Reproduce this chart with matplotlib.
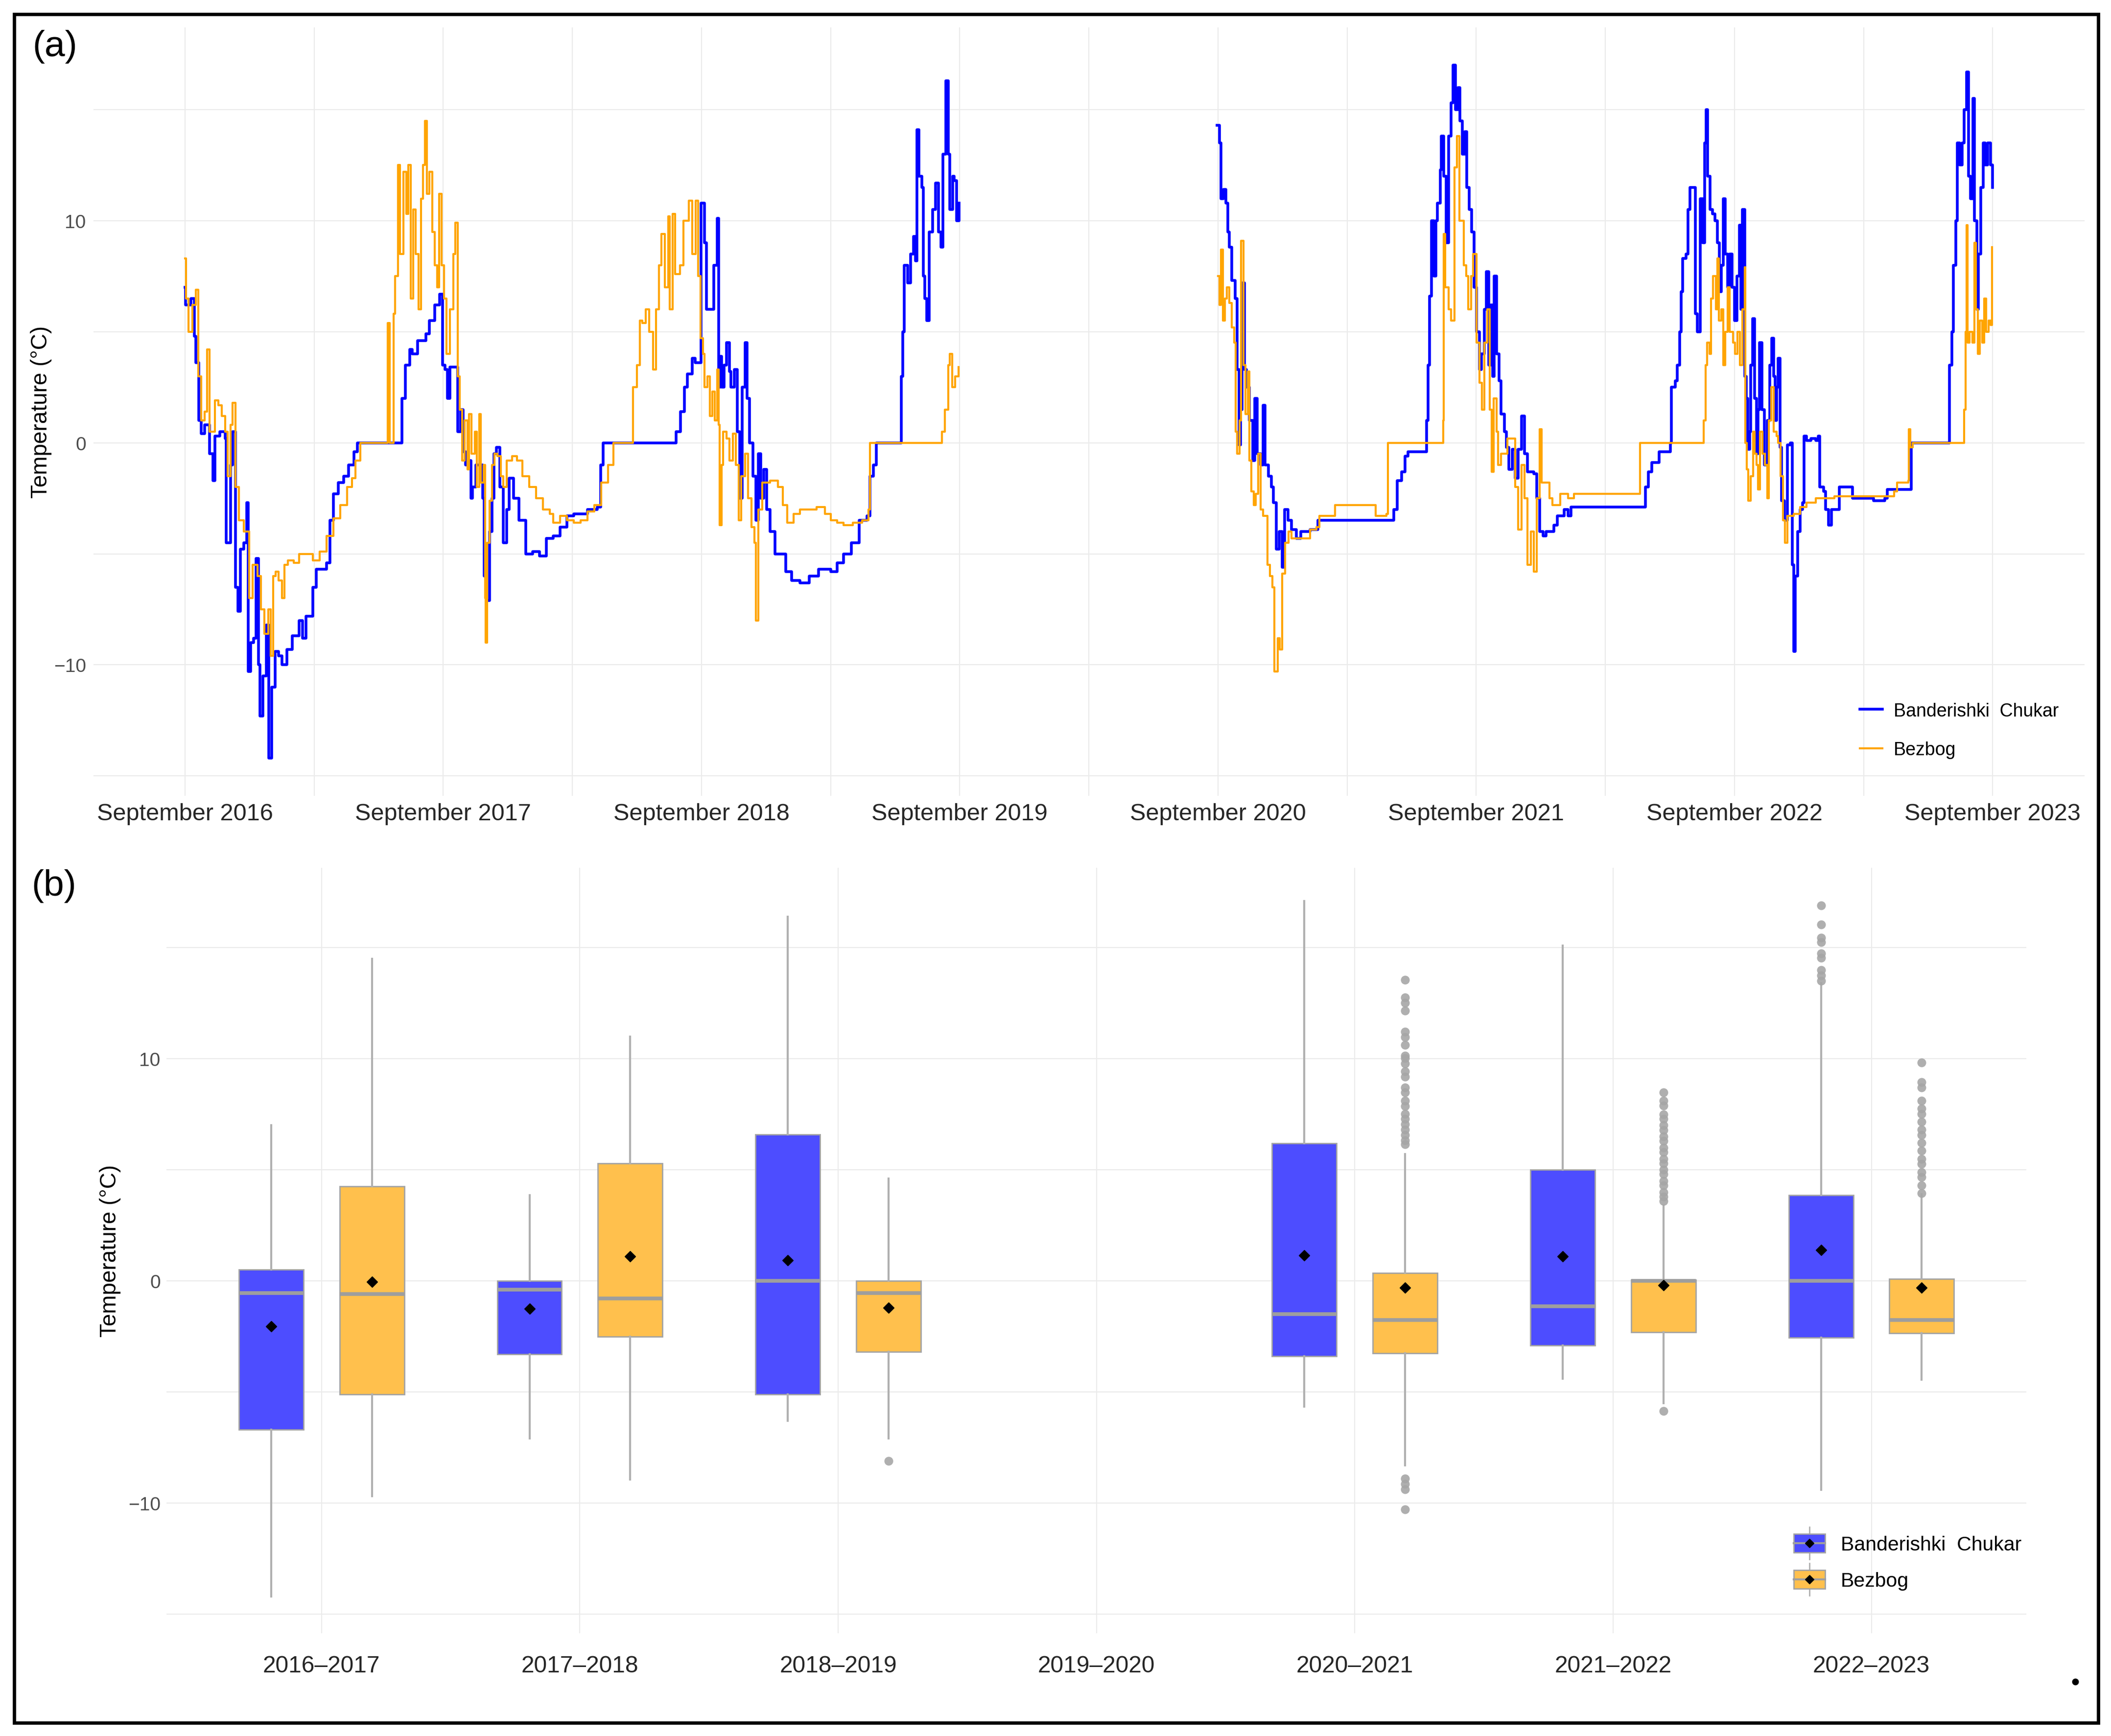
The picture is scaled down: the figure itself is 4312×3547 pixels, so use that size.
import numpy as np
import matplotlib
matplotlib.use('Agg')
import matplotlib.pyplot as plt
from matplotlib.patches import Patch, Rectangle
from matplotlib.lines import Line2D
from matplotlib.legend_handler import HandlerBase

plt.rcParams['font.family'] = ['Liberation Sans', 'DejaVu Sans']

# ---- panel (a): daily temperature, x = months since September 2016 ----
bc_early_m = [0.00, 0.03, 0.27, 0.43, 0.51, 0.64, 0.75, 0.91, 1.15, 1.31,
              1.39, 1.63, 1.87, 1.91, 2.11, 2.22, 2.35, 2.46, 2.58, 2.74,
              2.87, 2.94, 3.06, 3.19, 3.30, 3.41, 3.49, 3.62, 3.78, 3.89,
              4.02, 4.18, 4.34, 4.50, 4.74, 4.98, 5.30, 5.46, 5.62, 5.94,
              6.10, 6.57, 6.73, 6.89, 7.13, 7.37, 7.61, 7.85, 8.01, 9.97,
              10.08, 10.24, 10.44, 10.57, 10.80, 11.20, 11.36, 11.60, 11.84, 11.97,
              12.08, 12.19, 12.32, 12.61, 12.67, 12.80, 12.92, 13.04, 13.20, 13.28,
              13.36, 13.52, 13.72, 13.83, 13.91, 13.99, 14.15, 14.27, 14.36, 14.47,
              14.63, 14.79, 14.95, 15.06, 15.27, 15.51, 15.83, 16.15, 16.47, 16.79,
              17.11, 17.42, 17.74, 18.06, 18.70, 19.15, 19.31, 19.42, 22.76, 22.83,
              23.02, 23.20, 23.34, 23.56, 23.70, 23.89, 23.99, 24.14, 24.24, 24.43,
              24.57, 24.72, 24.79, 24.87, 24.94, 25.05, 25.16, 25.30, 25.37, 25.52,
              25.66, 25.78, 25.88, 26.03, 26.13, 26.24, 26.39, 26.53, 26.65, 26.75,
              26.90, 27.04, 27.19, 27.41, 27.70, 27.91, 28.20, 28.57, 29.00, 29.44,
              30.02, 30.31, 30.60, 30.96, 31.32, 31.69, 31.83, 31.98, 32.12, 33.21,
              33.28, 33.36, 33.43, 33.57, 33.72, 33.86, 33.94, 34.01, 34.11, 34.23,
              34.30, 34.37, 34.47, 34.59, 34.73, 34.88, 35.02, 35.13, 35.21, 35.36,
              35.46, 35.53, 35.68, 35.75, 35.85, 35.97]
bc_early_t = [7.0, 6.2, 6.5, 4.8, 3.6, 1.0, 0.4, 0.8, -0.5, -1.7,
              0.3, 0.5, 0.2, -4.5, -1.0, 0.5, -6.5, -7.6, -4.8, -4.5,
              -2.7, -10.3, -9.0, -8.8, -5.2, -10.0, -12.3, -10.5, -8.2, -14.2,
              -11.0, -9.4, -9.6, -10.0, -9.3, -8.7, -8.0, -8.8, -7.8, -6.5,
              -5.7, -5.4, -3.5, -2.3, -1.8, -1.5, -1.0, -0.4, 0.0, 0.0,
              2.0, 3.5, 4.2, 4.0, 4.6, 4.9, 5.5, 6.2, 6.7, 3.5,
              3.3, 2.0, 3.4, 3.4, 0.5, 1.5, -0.4, -1.0, -0.8, -2.5,
              -2.0, -1.0, -1.0, -2.5, -6.0, -7.1, -4.0, -2.5, -0.5, -0.2,
              -2.0, -4.5, -3.0, -1.6, -2.5, -3.5, -5.0, -4.9, -5.1, -4.3,
              -4.2, -3.8, -3.3, -3.2, -3.0, -2.9, -1.0, 0.0, 0.0, 0.5,
              1.4, 2.5, 3.1, 3.8, 3.6, 3.6, 10.8, 9.0, 6.0, 6.0,
              8.0, 10.1, 2.5, 3.9, 2.5, 3.5, 4.5, 3.2, 2.5, 3.3,
              0.5, -2.5, 2.5, 4.5, 2.0, 0.0, -1.5, -3.5, -0.5, -2.5,
              -1.2, -3.0, -4.0, -5.0, -5.0, -5.8, -6.2, -6.3, -6.0, -5.7,
              -5.8, -5.4, -5.0, -4.5, -3.5, -3.3, -1.5, -1.0, 0.0, 0.0,
              3.0, 5.0, 8.0, 7.2, 8.5, 9.3, 8.2, 14.1, 12.0, 11.5,
              7.5, 6.5, 5.5, 9.5, 10.5, 11.7, 9.5, 8.8, 13.0, 16.3,
              13.0, 10.5, 12.0, 11.8, 10.0, 10.8]

bc_late_m = [47.96, 48.07, 48.13, 48.25, 48.36, 48.46, 48.53, 48.65, 48.79, 48.89,
             48.97, 49.04, 49.11, 49.23, 49.33, 49.47, 49.62, 49.72, 49.83, 49.98,
             50.09, 50.19, 50.34, 50.48, 50.58, 50.70, 50.84, 50.99, 51.10, 51.25,
             51.42, 51.64, 51.85, 52.29, 52.65, 56.11, 56.18, 56.33, 56.54, 56.69,
             56.83, 57.65, 57.70, 57.77, 57.84, 57.91, 58.03, 58.13, 58.20, 58.32,
             58.38, 58.49, 58.61, 58.71, 58.82, 58.92, 59.04, 59.14, 59.24, 59.36,
             59.47, 59.57, 59.67, 59.79, 59.90, 60.01, 60.15, 60.25, 60.37, 60.48,
             60.58, 60.68, 60.77, 60.84, 60.94, 61.06, 61.16, 61.30, 61.41, 61.52,
             61.67, 61.81, 61.95, 62.10, 62.24, 62.39, 62.68, 62.82, 62.96, 63.11,
             63.25, 63.61, 63.76, 63.97, 64.09, 64.26, 64.41, 67.78, 67.86, 68.00,
             68.15, 68.51, 69.02, 69.06, 69.24, 69.35, 69.46, 69.53, 69.60, 69.75,
             69.85, 69.94, 70.08, 70.18, 70.28, 70.40, 70.52, 70.62, 70.69, 70.76,
             70.87, 70.98, 71.10, 71.20, 71.30, 71.39, 71.49, 71.56, 71.68, 71.78,
             71.88, 72.00, 72.12, 72.22, 72.29, 72.36, 72.47, 72.55, 72.61, 72.70,
             72.76, 72.84, 72.94, 73.02, 73.09, 73.16, 73.28, 73.38, 73.53, 73.64,
             73.74, 73.82, 73.89, 73.96, 74.03, 74.11, 74.18, 74.33, 74.47, 74.59,
             74.69, 74.76, 74.83, 74.94, 75.05, 75.17, 75.24, 75.34, 75.56, 75.78,
             75.90, 75.95, 76.14, 76.24, 76.36, 76.51, 76.72, 76.87, 77.38, 77.49,
             77.81, 78.47, 78.98, 79.09, 80.14, 80.21, 81.96, 82.00, 82.10, 82.17,
             82.28, 82.35, 82.47, 82.58, 82.68, 82.78, 82.87, 82.97, 83.08, 83.16,
             83.26, 83.34, 83.45, 83.56, 83.66, 83.77, 83.89, 83.99]
bc_late_t = [14.3, 13.5, 11.0, 11.4, 10.8, 9.5, 8.8, 7.3, 6.5, 3.3,
             -0.1, 1.5, 7.2, 3.3, 2.5, 1.0, -0.8, 2.0, -0.5, -1.0,
             1.7, -1.0, -1.5, -2.0, -2.7, -4.8, -4.0, -5.6, -3.0, -3.5,
             -3.9, -4.3, -4.0, -3.9, -3.5, -3.5, -3.0, -1.7, -1.3, -0.6,
             -0.4, -0.4, 1.0, 3.5, 6.6, 10.0, 7.5, 10.0, 10.8, 12.3,
             13.8, 12.0, 9.0, 13.8, 15.3, 17.0, 15.0, 16.0, 14.5, 13.0,
             14.0, 11.5, 10.5, 9.5, 7.0, 5.0, 3.3, 4.0, 6.0, 7.7,
             3.5, 6.2, 3.0, 7.5, 4.0, 2.8, 1.3, 0.5, -0.2, -1.2,
             -0.3, -1.6, -0.3, 1.2, -0.5, -1.3, -1.4, -2.5, -4.0, -4.2,
             -4.0, -3.7, -3.3, -3.3, -3.0, -3.3, -2.9, -2.9, -2.0, -1.3,
             -0.9, -0.4, 0.0, 2.5, 2.8, 3.5, 5.0, 6.8, 8.3, 8.5,
             10.5, 11.5, 11.5, 5.8, 5.0, 11.0, 9.0, 13.5, 15.0, 12.0,
             10.5, 10.3, 10.0, 9.0, 6.8, 8.0, 11.0, 8.5, 7.0, 8.5,
             7.0, 5.5, 7.5, 9.8, 6.0, 10.5, 3.0, 2.0, -0.3, 0.5,
             3.5, 5.6, 2.0, -0.5, 1.5, 4.5, 1.5, -1.0, 1.0, 3.5,
             4.7, 3.0, 1.0, 2.5, 3.8, -0.2, -2.6, -3.5, -0.1, 0.0,
             -5.5, -9.4, -6.0, -4.0, -3.0, -2.7, 0.3, 0.1, 0.2, 0.1,
             0.3, -2.0, -2.2, -3.0, -3.7, -3.0, -3.0, -2.0, -2.0, -2.5,
             -2.5, -2.6, -2.5, -2.1, -2.1, 0.0, 0.0, 3.5, 5.0, 8.0,
             10.0, 13.5, 12.5, 13.5, 15.0, 16.7, 12.0, 11.0, 15.5, 10.0,
             6.0, 8.5, 11.5, 13.5, 12.5, 13.5, 12.5, 11.5]

bz_early_m = [0.00, 0.06, 0.16, 0.27, 0.35, 0.51, 0.61, 0.75, 0.91, 1.02,
              1.15, 1.39, 1.55, 1.71, 1.87, 1.98, 2.11, 2.22, 2.35, 2.51,
              2.74, 2.98, 3.14, 3.38, 3.54, 3.70, 3.86, 3.99, 4.10, 4.21,
              4.34, 4.50, 4.63, 4.79, 5.06, 5.30, 5.62, 5.94, 6.25, 6.57,
              6.89, 7.21, 7.53, 7.77, 7.93, 8.14, 9.37, 9.41, 9.52, 9.69,
              9.77, 9.89, 10.00, 10.16, 10.28, 10.37, 10.48, 10.61, 10.72, 10.85,
              10.96, 11.07, 11.15, 11.23, 11.36, 11.49, 11.60, 11.71, 11.81, 11.92,
              12.03, 12.16, 12.32, 12.48, 12.57, 12.67, 12.77, 12.88, 12.99, 13.12,
              13.20, 13.32, 13.47, 13.56, 13.67, 13.75, 13.87, 13.95, 13.98, 14.04,
              14.15, 14.27, 14.39, 14.52, 14.68, 14.79, 14.95, 15.19, 15.43, 15.67,
              15.99, 16.31, 16.63, 16.95, 17.11, 17.42, 17.74, 18.06, 18.38, 18.70,
              19.02, 19.34, 19.66, 19.90, 20.74, 20.81, 21.01, 21.13, 21.25, 21.41,
              21.57, 21.76, 21.89, 22.02, 22.13, 22.29, 22.45, 22.53, 22.66, 22.77,
              23.01, 23.17, 23.41, 23.57, 23.73, 23.85, 23.95, 24.07, 24.14, 24.28,
              24.39, 24.50, 24.62, 24.72, 24.79, 24.84, 24.94, 25.01, 25.16, 25.30,
              25.45, 25.59, 25.74, 25.84, 26.03, 26.17, 26.32, 26.46, 26.53, 26.64,
              26.82, 26.97, 27.19, 27.55, 27.77, 27.99, 28.28, 28.57, 29.00, 29.36,
              29.73, 30.02, 30.31, 30.60, 31.03, 31.47, 31.76, 31.83, 35.13, 35.17,
              35.31, 35.46, 35.53, 35.65, 35.79, 35.94]
bz_early_t = [8.3, 6.5, 5.0, 5.0, 6.2, 6.9, 3.0, 1.0, 1.4, 4.2,
              0.5, 1.9, 1.7, 1.2, 0.5, -1.5, 0.8, 1.8, -2.0, -3.5,
              -4.0, -7.0, -5.5, -6.0, -7.5, -8.6, -7.5, -9.6, -6.0, -5.8,
              -6.2, -7.0, -5.5, -5.3, -5.4, -5.0, -5.0, -5.3, -4.9, -4.2,
              -3.4, -2.8, -2.0, -1.6, -0.8, 0.0, 0.0, 5.4, 0.0, 5.8,
              7.5, 12.5, 8.5, 12.2, 10.3, 12.5, 6.5, 10.5, 8.5, 6.0,
              11.0, 12.5, 14.5, 11.2, 12.2, 9.5, 8.0, 7.0, 11.2, 8.0,
              6.5, 4.0, 6.0, 8.5, 9.9, 3.0, 1.5, -0.8, 1.0, -1.2,
              1.3, -0.5, 0.5, -2.0, 1.3, -1.8, -1.0, -7.0, -9.0, -4.5,
              -2.6, -1.0, -0.5, -0.6, -1.5, -2.0, -0.8, -0.6, -0.8, -1.5,
              -2.0, -2.5, -3.0, -3.2, -3.6, -3.3, -3.5, -3.6, -3.5, -3.1,
              -2.8, -1.8, -1.0, 0.0, 0.0, 2.5, 3.5, 5.5, 5.4, 6.0,
              5.0, 3.3, 6.0, 8.0, 9.4, 7.0, 10.2, 6.0, 10.3, 7.6,
              8.0, 10.0, 10.9, 8.5, 10.9, 7.5, 4.7, 4.0, 2.5, 3.0,
              1.2, 2.3, 1.0, 3.3, 0.8, -3.7, -1.0, 0.5, 0.2, -0.8,
              0.4, -1.0, -3.5, -1.5, -0.5, -2.5, -3.8, -4.5, -8.0, -3.0,
              -1.8, -1.8, -1.7, -2.0, -2.8, -3.6, -3.2, -3.0, -3.0, -2.9,
              -3.2, -3.5, -3.6, -3.7, -3.6, -3.5, -3.0, 0.0, 0.0, 0.5,
              1.5, 3.5, 4.0, 2.5, 3.0, 3.4]

bz_late_m = [48.00, 48.07, 48.13, 48.22, 48.32, 48.42, 48.53, 48.65, 48.75, 48.82,
             48.89, 49.00, 49.08, 49.18, 49.28, 49.40, 49.47, 49.54, 49.66, 49.76,
             49.86, 49.98, 50.09, 50.19, 50.29, 50.41, 50.53, 50.63, 50.77, 50.87,
             50.99, 51.13, 51.28, 51.42, 52.14, 52.29, 52.57, 52.72, 53.44, 55.24,
             55.32, 55.82, 55.89, 58.42, 58.46, 58.49, 58.56, 58.71, 58.82, 58.92,
             59.00, 59.10, 59.21, 59.33, 59.43, 59.53, 59.62, 59.76, 59.86, 60.01,
             60.15, 60.27, 60.37, 60.51, 60.63, 60.73, 60.80, 60.94, 61.02, 61.16,
             61.30, 61.45, 61.67, 61.81, 61.95, 62.10, 62.24, 62.39, 62.53, 62.68,
             62.82, 62.94, 63.04, 63.25, 63.40, 63.54, 63.76, 63.90, 64.12, 64.26,
             64.55, 67.57, 67.61, 70.55, 70.58, 70.66, 70.72, 70.84, 70.91, 71.01,
             71.13, 71.20, 71.27, 71.39, 71.49, 71.56, 71.68, 71.78, 71.93, 72.03,
             72.15, 72.26, 72.36, 72.47, 72.51, 72.58, 72.65, 72.76, 72.87, 72.94,
             73.02, 73.09, 73.19, 73.31, 73.42, 73.53, 73.60, 73.72, 73.82, 73.96,
             74.03, 74.15, 74.25, 74.35, 74.47, 74.76, 75.05, 75.34, 75.78, 76.65,
             78.98, 79.41, 79.56, 80.07, 80.11, 80.17, 80.28, 82.65, 82.68, 82.73,
             82.78, 82.84, 82.93, 83.05, 83.16, 83.22, 83.31, 83.41, 83.51, 83.60,
             83.70, 83.80, 83.89, 83.96]
bz_late_t = [7.5, 6.2, 8.7, 5.5, 6.5, 7.0, 6.3, 5.2, 4.5, 0.5,
             -0.5, 1.0, 9.1, 3.5, 1.3, 3.2, -0.8, -2.2, -2.8, -2.3,
             -0.5, -3.0, -3.3, -3.3, -5.5, -6.0, -6.5, -10.3, -8.8, -9.3,
             -5.9, -4.5, -4.0, -4.3, -4.3, -3.9, -3.8, -3.3, -2.8, -2.8,
             -3.3, -3.2, 0.0, 0.0, 1.0, 9.4, 7.0, 6.0, 5.5, 5.5,
             12.4, 13.8, 10.0, 10.0, 8.0, 7.5, 6.0, 7.5, 8.5, 4.5,
             2.7, 1.5, 4.5, 6.0, 1.5, -1.3, 2.0, 0.5, -1.0, -0.5,
             -0.5, 0.2, 0.2, -2.0, -3.9, -1.0, -2.5, -5.5, -4.0, -5.8,
             -2.5, 0.6, -1.8, -1.8, -2.5, -2.8, -2.8, -2.3, -2.3, -2.5,
             -2.3, -2.3, 0.0, 0.0, 1.0, 3.5, 4.5, 4.0, 6.5, 7.5,
             6.0, 8.3, 5.5, 6.0, 3.5, 5.0, 7.0, 5.0, 4.5, 4.0,
             5.0, 3.5, 6.0, 7.9, 0.0, -1.2, -2.6, -1.5, 0.5, -0.5,
             -1.0, -2.1, 0.5, -0.5, -1.0, -2.5, 1.0, 2.5, 0.5, 0.3,
             0.0, -1.5, -3.5, -4.5, -3.3, -3.2, -2.9, -2.7, -2.5, -2.4,
             -2.4, -2.2, -1.8, -1.7, 0.6, -0.2, 0.0, 0.0, 1.5, 5.0,
             9.8, 4.5, 5.0, 4.5, 9.0, 6.0, 4.0, 5.5, 4.5, 6.5,
             5.0, 5.5, 5.3, 8.8]

assert len(bc_early_m) == len(bc_early_t)
assert len(bc_late_m) == len(bc_late_t)
assert len(bz_early_m) == len(bz_early_t)
assert len(bz_late_m) == len(bz_late_t)

years = [2016, 2017, 2018, 2019, 2020, 2021, 2022, 2023]

# ---- panel (b): seasonal box plot summaries ----
seasons = ['2016–2017', '2017–2018', '2018–2019', '2019–2020',
           '2020–2021', '2021–2022', '2022–2023']
bc_q1 = [-6.7, -3.3, -5.1, None, -3.4, -2.9, -2.55]
bc_med = [-0.55, -0.4, 0.0, None, -1.5, -1.15, 0.0]
bc_q3 = [0.5, 0.0, 6.6, None, 6.2, 5.0, 3.85]
bc_lo = [-14.2, -7.1, -6.3, None, -5.65, -4.4, -9.4]
bc_hi = [7.0, 3.85, 16.4, None, 17.1, 15.1, 13.4]
bc_mean = [-2.05, -1.25, 0.93, None, 1.15, 1.1, 1.4]
bc_out = [[], [], [], [], [], [],
          [16.9, 16.05, 15.45, 15.26, 14.74, 14.55, 14.0, 13.76, 13.52]]

bz_q1 = [-5.1, -2.5, -3.2, None, -3.25, -2.3, -2.35]
bz_med = [-0.6, -0.8, -0.55, None, -1.75, 0.0, -1.75]
bz_q3 = [4.25, 5.3, 0.0, None, 0.35, 0.05, 0.1]
bz_lo = [-9.7, -8.95, -7.1, None, -8.3, -5.5, -4.45]
bz_hi = [14.5, 11.0, 4.6, None, 5.7, 3.4, 3.9]
bz_mean = [-0.05, 1.1, -1.2, None, -0.3, -0.2, -0.3]
bz_out = [[], [], [-8.1], [],
          [13.55, 12.76, 12.52, 12.17, 11.21, 10.98, 10.62, 10.14, 10.02, 9.79,
           9.43, 9.19, 8.71, 8.48, 8.12, 7.88, 7.52, 7.29, 7.05, 6.81,
           6.57, 6.33, 6.14, -8.9, -9.14, -9.38, -10.29],
          [8.48, 8.12, 7.9, 7.5, 7.3, 7.0, 6.8, 6.5, 6.3, 6.0,
           5.8, 5.5, 5.3, 5.0, 4.8, 4.5, 4.3, 4.0, 3.8, 3.6, -5.86],
          [9.83, 8.95, 8.71, 8.12, 7.76, 7.52, 7.17, 6.81, 6.57, 6.21,
           5.86, 5.50, 5.26, 4.90, 4.67, 4.31, 3.95]]

BLUE = '#0000FF'
ORANGE = '#FFA500'
BLUE_FILL = '#4D4DFF'
ORANGE_FILL = '#FFC04D'
GRID = '#EBEBEB'
BOX_EDGE = '#A3A3A3'
WHISKER = '#B0B0B0'
MEDIAN = '#9E9E9E'

fig = plt.figure(figsize=(43.12, 35.48), dpi=100)

# ================= (a) time series =================
ax1 = fig.add_axes([0.0443, 0.5414, 0.9432, 0.4425])
ax1.plot(bc_early_m, bc_early_t, drawstyle='steps-post', color=BLUE, lw=4,
         label='Banderishki  Chukar')
ax1.plot(bc_late_m, bc_late_t, drawstyle='steps-post', color=BLUE, lw=4)
ax1.plot(bz_early_m, bz_early_t, drawstyle='steps-post', color=ORANGE, lw=3,
         label='Bezbog')
ax1.plot(bz_late_m, bz_late_t, drawstyle='steps-post', color=ORANGE, lw=3)

ax1.set_xlim(-4.25, 88.27)
ax1.set_ylim(-15.9, 18.7)
ax1.set_xticks([12 * i for i in range(len(years))])
ax1.set_xticklabels([f'September {y}' for y in years])
ax1.set_xticks([12 * i + 6 for i in range(len(years) - 1)], minor=True)
ax1.set_yticks([-10, 0, 10])
ax1.set_yticks([-15, -5, 5, 15], minor=True)
ax1.grid(which='both', color=GRID, lw=1.6)
ax1.set_axisbelow(True)
ax1.tick_params(which='both', length=0)
ax1.tick_params(axis='x', labelsize=35, labelcolor='#262626', pad=10)
ax1.tick_params(axis='y', labelsize=28, labelcolor='#4D4D4D', pad=11)
for s in ax1.spines.values():
    s.set_visible(False)
ax1.set_ylabel('Temperature (°C)', fontsize=33, color='black')
ax1.yaxis.set_label_coords(-0.0209, 0.5)

ax1.legend(loc='upper left', bbox_to_anchor=(0.887, 0.122), frameon=False,
           fontsize=27, handlelength=1.25, handletextpad=0.6,
           labelspacing=1.15, borderpad=0, borderaxespad=0)

# ================= (b) box plots =================
ax2 = fig.add_axes([0.0789, 0.0592, 0.881, 0.4408])


def build_stats(q1, med, q3, lo, hi, mean, out):
    stats, pos = [], []
    for i in range(len(seasons)):
        if q1[i] is None:
            continue
        stats.append(dict(q1=q1[i], med=med[i], q3=q3[i], whislo=lo[i],
                          whishi=hi[i], mean=mean[i], fliers=np.array(out[i])))
        pos.append(i)
    return stats, pos


dodge = 0.195
for (q1, med, q3, lo, hi, mean, out), fill, off in [
        ((bc_q1, bc_med, bc_q3, bc_lo, bc_hi, bc_mean, bc_out), BLUE_FILL, -dodge),
        ((bz_q1, bz_med, bz_q3, bz_lo, bz_hi, bz_mean, bz_out), ORANGE_FILL, dodge)]:
    stats, pos = build_stats(q1, med, q3, lo, hi, mean, out)
    ax2.bxp(stats, positions=[p + off for p in pos], widths=0.25,
            patch_artist=True, showmeans=True, showcaps=False,
            boxprops=dict(facecolor=fill, edgecolor=BOX_EDGE, lw=2),
            medianprops=dict(color=MEDIAN, lw=5.5),
            whiskerprops=dict(color=WHISKER, lw=3),
            meanprops=dict(marker='D', markerfacecolor='black',
                           markeredgecolor='black', markersize=11),
            flierprops=dict(marker='o', markerfacecolor='#A6A6A6',
                            markeredgecolor='none', markersize=13, alpha=0.9))

ax2.set_xlim(-0.6, 6.6)
ax2.set_ylim(-15.86, 18.6)
ax2.set_xticks(range(len(seasons)))
ax2.set_xticklabels(seasons)
ax2.set_yticks([-10, 0, 10])
ax2.set_yticks([-15, -5, 5, 15], minor=True)
ax2.grid(axis='x', which='major', color=GRID, lw=1.6)
ax2.grid(axis='y', which='both', color=GRID, lw=1.6)
ax2.set_axisbelow(True)
ax2.tick_params(which='both', length=0)
ax2.tick_params(axis='x', labelsize=34.5, labelcolor='#262626', pad=32)
ax2.tick_params(axis='y', labelsize=28, labelcolor='#4D4D4D', pad=9)
for s in ax2.spines.values():
    s.set_visible(False)
ax2.set_ylabel('Temperature (°C)', fontsize=33, color='black')
ax2.yaxis.set_label_coords(-0.0245, 0.5)


class BoxKey(HandlerBase):
    # ggplot-style boxplot key: whisker, box, median line and mean diamond
    def create_artists(self, legend, orig_handle, xdescent, ydescent,
                       width, height, fontsize, trans):
        x0, y0 = -xdescent, -ydescent
        cx, cy = x0 + width / 2, y0 + height / 2
        whisk = Line2D([cx, cx], [y0 - 0.35 * height, y0 + 1.35 * height],
                       color=WHISKER, lw=2, transform=trans)
        rect = Rectangle((x0, y0), width, height,
                         facecolor=orig_handle.get_facecolor(),
                         edgecolor=BOX_EDGE, lw=2, transform=trans)
        med = Line2D([x0, x0 + width], [cy, cy], color=MEDIAN, lw=3,
                     transform=trans)
        dia = Line2D([cx], [cy], ls='none', marker='D', color='black',
                     markersize=9, transform=trans)
        return [whisk, rect, med, dia]


box_handles = [Patch(facecolor=BLUE_FILL), Patch(facecolor=ORANGE_FILL)]
ax2.legend(box_handles, ['Banderishki  Chukar', 'Bezbog'],
           handler_map={Patch: BoxKey()},
           loc='upper left', bbox_to_anchor=(0.875, 0.130), frameon=False,
           fontsize=29.5, handlelength=1.56, handleheight=1.07,
           handletextpad=0.78, labelspacing=0.8,
           borderpad=0, borderaxespad=0)

# panel letters, frame and stray dot of the original figure
fig.text(112 / 4312, 1 - 95 / 3548, '(a)', fontsize=54, ha='center', va='center')
fig.text(110 / 4312, 1 - 1811 / 3548, '(b)', fontsize=54, ha='center', va='center')
fig.add_artist(Rectangle((29 / 4312, 1 - 3521 / 3548), (4286 - 29) / 4312,
                         (3521 - 30) / 3548, transform=fig.transFigure,
                         fill=False, lw=5, ec='black'))
fig.add_artist(Line2D([4239 / 4312], [1 - 3437 / 3548], transform=fig.transFigure,
                      marker='o', color='black', markersize=9, ls='none'))

fig.savefig('out.png', dpi=100, facecolor='white')
